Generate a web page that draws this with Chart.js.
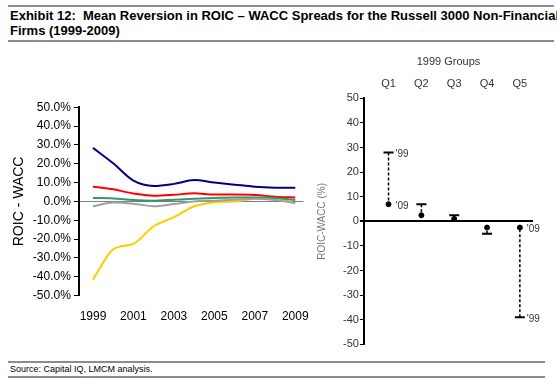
<!DOCTYPE html>
<html>
<head>
<meta charset="utf-8">
<script src="https://cdn.jsdelivr.net/npm/chart.js@4"></script>
<style>
  body { margin: 0; width: 557px; height: 390px; background: #fff; position: relative; overflow: hidden;
         font-family: "Liberation Sans", Arial, sans-serif; }
  .rule { position: absolute; left: 8px; height: 2px; background: #8c8c8c; }
  #title { position: absolute; left: 10px; top: 8px; font-size: 13px; font-weight: bold; line-height: 15px;
           white-space: nowrap; color: #000; }
  #source { position: absolute; left: 10px; top: 364px; font-size: 9px; color: #000; }
  #left { position: absolute; left: 0; top: 97px; }
  #right { position: absolute; left: 312px; top: 51px; }
</style>
</head>
<body>
<div class="rule" style="top:5px;width:546px"></div>
<div id="title">Exhibit 12:&nbsp; Mean Reversion in ROIC – WACC Spreads for the Russell 3000 Non-Financial<br>Firms (1999-2009)</div>
<div class="rule" style="top:40px;width:546px"></div>
<canvas id="left" width="315" height="235"></canvas>
<canvas id="right" width="229" height="301"></canvas>
<div class="rule" style="top:361px;width:537px"></div>
<div id="source">Source: Capital IQ, LMCM analysis.</div>
<div class="rule" style="top:376px;width:537px"></div>

<script>
// left chart: ROIC - WACC by 1999 quintile, yearly (%)
var years = [1999, 2000, 2001, 2002, 2003, 2004, 2005, 2006, 2007, 2008, 2009];
var yearTicks = [1999, 2001, 2003, 2005, 2007, 2009];
var q1Spread = [28.4, 20.2, 11.0, 8.2, 9.3, 11.3, 10.0, 8.9, 7.8, 7.3, 7.2];
var q2Spread = [7.8, 6.4, 4.2, 3.0, 3.5, 4.3, 3.6, 3.6, 3.4, 2.5, 2.1];
var q3Spread = [1.8, 1.6, 0.7, 0.4, 0.9, 1.4, 1.8, 2.1, 2.1, 1.8, 0.7];
var q4Spread = [-2.6, -0.6, -1.2, -2.6, -1.4, 0.0, 0.4, 0.9, 1.4, 0.7, -0.9];
var q5Spread = [-41.5, -25.5, -22.5, -13.2, -8.4, -2.6, -0.5, 0.0, 1.4, 2.1, -1.2];
var yPctTicks = [-50, -40, -30, -20, -10, 0, 10, 20, 30, 40, 50];

// right chart: 1999 groups, spread in '99 and '09
var groups = ["Q1", "Q2", "Q3", "Q4", "Q5"];
var spread99 = [28, 7, 2.5, -5, -39];
var spread09 = [7, 2.5, 1, -2.5, -2.5];
var yearLabels = [
  { group: 0, which: "99", text: "'99" },
  { group: 0, which: "09", text: "'09" },
  { group: 4, which: "09", text: "'09" },
  { group: 4, which: "99", text: "'99" }
];

var FONT = "'Liberation Sans', Arial, sans-serif";

function toPoints(arr) {
  return arr.map(function (v, i) { return { x: years[i], y: v }; });
}

function lineSet(arr, color) {
  return {
    data: toPoints(arr),
    borderColor: color,
    borderWidth: 2,
    pointRadius: 0,
    tension: 0.4,
    cubicInterpolationMode: "monotone"
  };
}

function leftChart() {
  var ctx = document.getElementById("left").getContext("2d");
  new Chart(ctx, {
    type: "line",
    data: {
      datasets: [
        lineSet(q4Spread, "#a0a0a0"),
        lineSet(q3Spread, "#2f9a6a"),
        lineSet(q2Spread, "#ff0000"),
        lineSet(q1Spread, "#000080"),
        lineSet(q5Spread, "#ffcc00")
      ]
    },
    options: {
      responsive: false,
      animation: false,
      layout: { padding: { left: 9, top: 5, right: 10, bottom: 2 } },
      plugins: { legend: { display: false }, tooltip: { enabled: false } },
      scales: {
        x: {
          type: "linear",
          min: 1998.3,
          max: 2009.4,
          afterBuildTicks: function (axis) {
            axis.ticks = yearTicks.map(function (v) { return { value: v }; });
          },
          border: { display: false },
          grid: { display: false },
          ticks: {
            color: "#000",
            font: { family: FONT, size: 12 },
            padding: 6,
            maxRotation: 0,
            callback: function (v) { return String(v); }
          }
        },
        y: {
          min: -50,
          max: 50,
          afterBuildTicks: function (axis) {
            axis.ticks = yPctTicks.map(function (v) { return { value: v }; });
          },
          border: { display: true, color: "#000", width: 2 },
          grid: {
            drawOnChartArea: true,
            color: function (c) { return c.tick && c.tick.value === 0 ? "#808080" : "rgba(0,0,0,0)"; },
            tickColor: "#000",
            tickLength: 5,
            lineWidth: 1
          },
          ticks: {
            color: "#000",
            font: { family: FONT, size: 12 },
            padding: 3,
            callback: function (v) { return v.toFixed(1) + "%"; }
          },
          title: { display: true, text: "ROIC - WACC", color: "#000", font: { family: FONT, size: 14 }, padding: 2 }
        }
      }
    }
  });
}

var groupLabelPlugin = {
  id: "groupLabels",
  afterDatasetsDraw: function (chart) {
    var c = chart.ctx;
    var xs = chart.scales.x, ys = chart.scales.y;
    c.save();
    c.fillStyle = "#333";
    c.font = "10px " + FONT;
    c.textBaseline = "middle";
    yearLabels.forEach(function (l) {
      var v = l.which === "99" ? spread99[l.group] : spread09[l.group];
      c.fillText(l.text, xs.getPixelForValue(l.group + 1) + 7, ys.getPixelForValue(v) + 2);
    });
    c.restore();
  }
};

function rightChart() {
  var ctx = document.getElementById("right").getContext("2d");
  var sets = [];
  groups.forEach(function (g, i) {
    sets.push({
      type: "scatter",
      showLine: true,
      data: [{ x: i + 1, y: spread99[i] }, { x: i + 1, y: spread09[i] }],
      borderColor: "#000",
      borderWidth: 1.5,
      borderDash: [3, 2],
      pointRadius: 0
    });
  });
  sets.push({
    type: "scatter",
    data: groups.map(function (g, i) { return { x: i + 1, y: spread99[i] }; }),
    pointStyle: "line",
    pointRadius: 5,
    pointBorderWidth: 2,
    pointBorderColor: "#000"
  });
  sets.push({
    type: "scatter",
    data: groups.map(function (g, i) { return { x: i + 1, y: spread09[i] }; }),
    pointStyle: "circle",
    pointRadius: 2.5,
    pointBackgroundColor: "#000",
    pointBorderColor: "#000"
  });

  new Chart(ctx, {
    type: "scatter",
    data: { datasets: sets },
    options: {
      responsive: false,
      animation: false,
      layout: { padding: { left: 2, top: 4, right: 8, bottom: 6 } },
      plugins: { legend: { display: false }, tooltip: { enabled: false } },
      scales: {
        x: {
          type: "linear",
          position: "top",
          min: 0.25,
          max: 5.4,
          afterBuildTicks: function (axis) {
            axis.ticks = groups.map(function (g, i) { return { value: i + 1 }; });
          },
          border: { display: false },
          grid: { display: false },
          ticks: {
            color: "#333",
            font: { family: FONT, size: 11 },
            padding: 0,
            callback: function (v) { return groups[v - 1]; }
          },
          title: { display: true, text: "1999 Groups", color: "#333", font: { family: FONT, size: 11 }, padding: { top: 0, bottom: 9 } }
        },
        y: {
          min: -50,
          max: 50,
          afterBuildTicks: function (axis) {
            axis.ticks = yPctTicks.map(function (v) { return { value: v }; });
          },
          border: { display: true, color: "#000", width: 2 },
          grid: {
            drawOnChartArea: true,
            color: function (c) { return c.tick && c.tick.value === 0 ? "#000" : "rgba(0,0,0,0)"; },
            lineWidth: function (c) { return c.tick && c.tick.value === 0 ? 2 : 1; },
            tickColor: "#000",
            tickLength: 4
          },
          ticks: { color: "#333", font: { family: FONT, size: 11 }, padding: 1 },
          title: { display: true, text: "ROIC-WACC (%)", color: "#777", font: { family: FONT, size: 10 }, padding: { top: 2, bottom: 14 } }
        }
      }
    },
    plugins: [groupLabelPlugin]
  });
}

leftChart();
rightChart();
</script>
</body>
</html>
